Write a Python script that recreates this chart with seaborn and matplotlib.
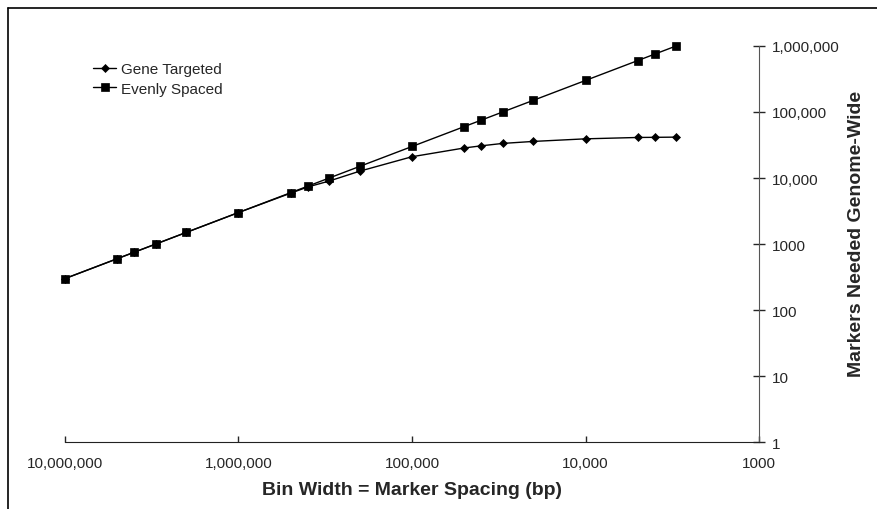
import pandas as pd
import seaborn as sns
import matplotlib.pyplot as plt
from matplotlib.lines import Line2D
from matplotlib.ticker import FixedLocator, NullLocator

# bin width (bp) and markers needed
bin_width = [10000000, 5000000, 4000000, 3000000, 2000000, 1000000, 500000, 400000,
             300000, 200000, 100000, 50000, 40000, 30000, 20000, 10000, 5000, 4000, 3000]
evenly_spaced = [300, 600, 750, 1000, 1500, 3000, 6000, 7500, 10000, 15000, 30000,
                 60000, 75000, 100000, 150000, 300000, 600000, 750000, 1000000]
gene_targeted = [300, 600, 750, 1000, 1500, 3000, 5900, 7300, 9000, 12700, 21000,
                 28500, 30700, 33400, 35800, 39200, 41100, 41300, 41600]

x_ticks = [10000000, 1000000, 100000, 10000, 1000]
x_tick_labels = ["10,000,000", "1,000,000", "100,000", "10,000", "1000"]
y_ticks = [1, 10, 100, 1000, 10000, 100000, 1000000]
y_tick_labels = ["1", "10", "100", "1000", "10,000", "100,000", "1,000,000"]

df = pd.DataFrame({
    "bin": bin_width * 2,
    "markers": gene_targeted + evenly_spaced,
    "series": ["Gene Targeted"] * len(bin_width) + ["Evenly Spaced"] * len(bin_width),
})

sns.set_style("white")
plt.rcParams["font.family"] = ["Liberation Sans", "DejaVu Sans"]

fig = plt.figure(figsize=(8.78, 5.10), dpi=100)
ax = fig.add_axes([0.074, 0.131, 0.7905, 0.777])

sns.lineplot(data=df, x="bin", y="markers", style="series",
             markers={"Gene Targeted": "D", "Evenly Spaced": "s"}, dashes=False,
             color="black", linewidth=1, markersize=5, markeredgewidth=0.5,
             markeredgecolor="black", ax=ax)

# squares on top, a bit bigger than the diamonds
for line in ax.lines:
    line.set_clip_on(False)
    if line.get_marker() == "s":
        line.set_zorder(3)
        line.set_markersize(5.5)
    elif line.get_marker() == "D":
        line.set_markersize(4)

ax.set_xscale("log")
ax.set_yscale("log")
ax.set_xlim(10000000, 1000)
ax.set_ylim(1, 1000000)

ax.xaxis.set_major_locator(FixedLocator(x_ticks))
ax.xaxis.set_minor_locator(NullLocator())
ax.set_xticklabels(x_tick_labels)
ax.yaxis.set_major_locator(FixedLocator(y_ticks))
ax.yaxis.set_minor_locator(NullLocator())
ax.set_yticklabels(y_tick_labels)

ax.yaxis.tick_right()
ax.yaxis.set_label_position("right")
for side in ["top", "left"]:
    ax.spines[side].set_visible(False)
ax.spines["bottom"].set_color("#222222")
ax.spines["right"].set_color("#555555")
ax.tick_params(axis="x", direction="in", length=4, width=1, pad=10, labelsize=11, bottom=True)
ax.tick_params(axis="y", direction="inout", length=8, width=1, pad=5, labelsize=11, right=True, left=False)

ax.set_xlabel("Bin Width = Marker Spacing (bp)", fontsize=14, fontweight="bold", labelpad=8)
ax.set_ylabel("Markers Needed Genome-Wide", fontsize=14, fontweight="bold")
ax.yaxis.set_label_coords(1.128, 0.528)

handles, labels = ax.get_legend_handles_labels()
for h in handles:
    if h.get_marker() == "s":
        h.set_markersize(5.5)
    elif h.get_marker() == "D":
        h.set_markersize(4)
ax.legend(handles, labels, loc="upper left", bbox_to_anchor=(0.106, 0.876),
          bbox_transform=fig.transFigure, frameon=False, fontsize=11,
          handlelength=1.5, handletextpad=0.3, labelspacing=0.35,
          borderpad=0, borderaxespad=0)

# outer frame, visible only on top and left
fx, fy = 8 / 878, 1 - 9 / 510
fig.add_artist(Line2D([fx, fx], [0, fy], color="black", linewidth=1.2, transform=fig.transFigure))
fig.add_artist(Line2D([fx, 1], [fy, fy], color="black", linewidth=1.2, transform=fig.transFigure))

fig.savefig("out.png", dpi=100)
